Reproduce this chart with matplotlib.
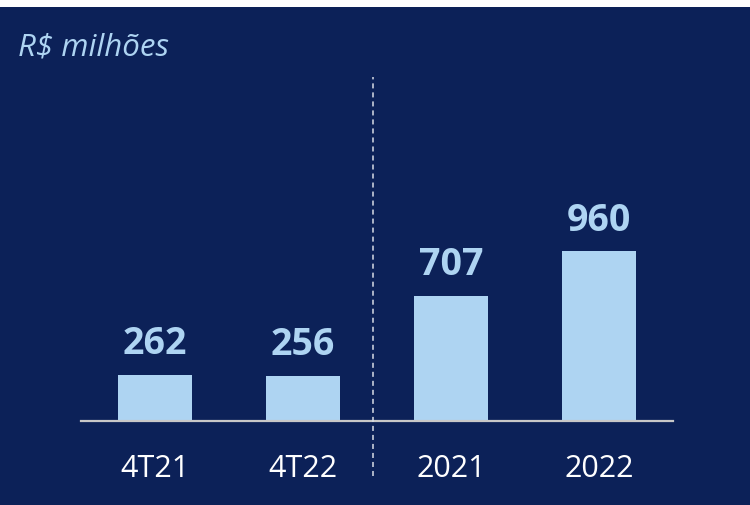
import matplotlib
matplotlib.use('Agg')
import matplotlib.pyplot as plt
from matplotlib.patches import Rectangle

categories = ['4T21', '4T22', '2021', '2022']
values = [262, 256, 707, 960]
unit_label = 'R$ milhões'

navy = '#0C2158'
light_blue = '#AED4F2'

plt.rcParams['font.family'] = ['Open Sans', 'DejaVu Sans']

W, H = 750, 505
fig = plt.figure(figsize=(W / 100, H / 100), dpi=100)
fig.patch.set_facecolor(navy)
# thin white strip on top
fig.patches.append(Rectangle((0, (H - 7) / H), 1, 7 / H, transform=fig.transFigure,
                             facecolor='white', edgecolor='none'))

# axes placed in pixel terms: x 81..673, baseline at y=421, top at y=77
left, right, base, top = 81, 673, 421, 77
ax = fig.add_axes([left / W, (H - base) / H, (right - left) / W, (base - top) / H])
ax.set_facecolor('none')

x = range(len(categories))
ax.bar(x, values, width=0.5, color=light_blue, zorder=2)
ax.set_xlim(-0.5, 3.5)
ax.set_ylim(0, 1944)

for i, v in zip(x, values):
    ax.annotate(str(v), (i, v), xytext=(0, 22), textcoords='offset points',
                ha='center', va='center', fontsize=27, fontweight='bold',
                color=light_blue)

ax.set_xticks(list(x))
ax.set_xticklabels(categories, fontsize=22, color='white')
ax.tick_params(axis='x', length=0, pad=24)
ax.set_yticks([])

for s in ['top', 'right', 'left']:
    ax.spines[s].set_visible(False)
ax.spines['bottom'].set_color('#C8C8C8')
ax.spines['bottom'].set_linewidth(1.6)

# dashed divider between quarters and years
ax.axvline(1.473, ymin=-(476 - base) / (base - top), ymax=1.0, color='#D8DCE6',
           linestyle=(0, (3.3, 2.6)), linewidth=1.1, clip_on=False, zorder=3)

fig.text(18 / W, 1 - 48 / H, unit_label, fontsize=22.5, style='italic',
         color=light_blue, ha='left', va='center')

fig.savefig('out.png', dpi=100, facecolor=fig.get_facecolor())
